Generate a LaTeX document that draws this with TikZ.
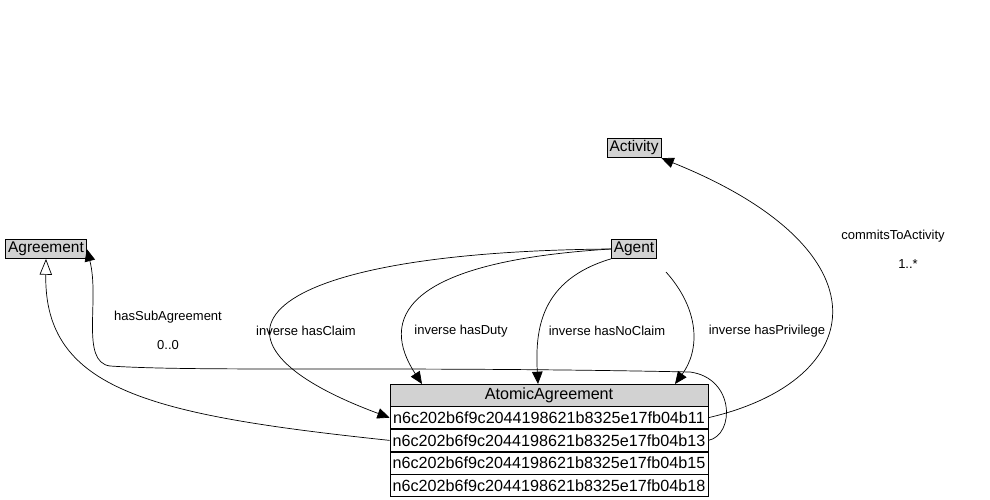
\documentclass[tikz,border=0pt]{standalone}
\usepackage{fontspec}
\setmainfont{Liberation Sans}
\usetikzlibrary{arrows.meta,positioning}

\begin{document}
\begin{tikzpicture}[
      x=0.02cm, y=-0.02cm,
      classbox/.style={rectangle, draw, fill=gray!35, inner sep=1.5pt, font=\fontsize{8.8}{10}\selectfont},
      headrow/.style={rectangle, draw, fill=gray!35, minimum width=6.36cm, minimum height=0.44cm, inner sep=0pt, font=\fontsize{9.2}{11}\selectfont},
      itemrow/.style={rectangle, draw, fill=white, minimum width=6.36cm, minimum height=0.44cm, inner sep=0pt, font=\fontsize{9.2}{11}\selectfont},
      lbl/.style={font=\fontsize{7.4}{9}\selectfont},
      arrow/.style={-{Triangle[length=7pt,width=6pt]}},
      subclass/.style={-{Triangle[open,length=9pt,width=7pt]}}
    ]
      \useasboundingbox (0,0) rectangle (990,500);

      % Classes
      \node[classbox] (activity) at (634,148) {Activity};
      \node[classbox] (agreement) at (46,249) {Agreement};
      \node[classbox] (agent) at (634,249) {Agent};

      % Atomic agreement table
      \node[headrow] (atomic) at (549,395) {AtomicAgreement};
      \node[itemrow, below=0pt of atomic] (row11) {n6c202b6f9c2044198621b8325e17fb04b11};
      \node[itemrow, below=0pt of row11] (row13) {n6c202b6f9c2044198621b8325e17fb04b13};
      \node[itemrow, below=0pt of row13] (row15) {n6c202b6f9c2044198621b8325e17fb04b15};
      \node[itemrow, below=0pt of row15] (row18) {n6c202b6f9c2044198621b8325e17fb04b18};

      % Subclass
      \draw[subclass] (row13.west) .. controls (150,415) and (44,390) .. (agreement.south);

      % hasSubAgreement
      \coordinate (loop1) at (690,372);
      \coordinate (loop2) at (110,366);
      \draw[arrow] (row13.east) .. controls (735,435) and (735,378) .. (loop1)
        .. controls (400,366) and (200,372) .. (loop2)
        .. controls (80,362) and (100,300) .. (agreement.east);
      \node[lbl] (subname) at (168,317) {hasSubAgreement};
      \node[lbl] (subcard) at (168,345) {0..0};

      % commitsToActivity
      \draw[arrow] (row11.east) .. controls (870,380) and (890,250) .. (activity.south east);
      \node[lbl] (actname) at (893,236) {commitsToActivity};
      \node[lbl] (actcard) at (908,264) {1..*};

      % Inverse properties
      \coordinate (dutyend) at (422,384);
      \coordinate (noclaimend) at (538,384);
      \coordinate (privend) at (675,384);
      \coordinate (privstart) at (666,272);
      \draw[arrow] (agent.west) .. controls (250,252) and (180,340) .. (row11.west);
      \draw[arrow] (agent.west) .. controls (400,262) and (380,320) .. (dutyend);
      \draw[arrow] (agent.south west) .. controls (540,280) and (535,330) .. (noclaimend);
      \draw[arrow] (privstart) .. controls (700,310) and (700,350) .. (privend);
      \node[lbl] (claimlbl) at (306,331) {inverse hasClaim};
      \node[lbl] (dutylbl) at (461,331) {inverse hasDuty};
      \node[lbl] (noclaimlbl) at (607,331) {inverse hasNoClaim};
      \node[lbl] (privlbl) at (767,331) {inverse hasPrivilege};
    \end{tikzpicture}
\end{document}
